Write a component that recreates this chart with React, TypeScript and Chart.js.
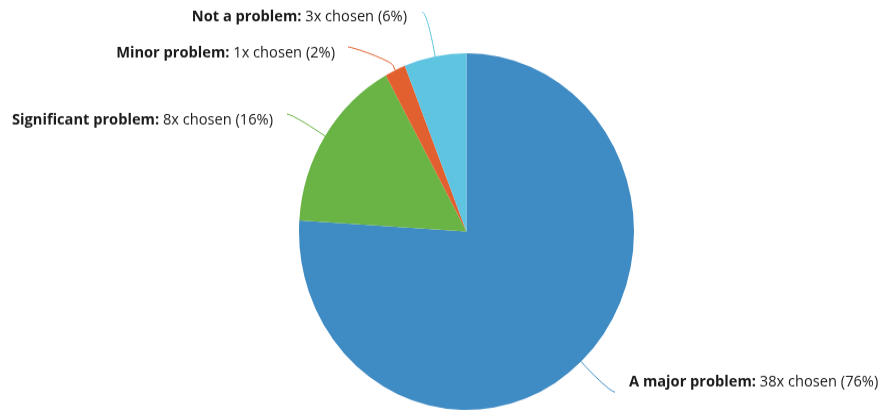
import React, { useEffect, useRef } from 'react';
import { Chart, registerables } from 'chart.js';

Chart.register(...registerables);

const categories = ['A major problem', 'Significant problem', 'Minor problem', 'Not a problem'];
const counts = [38, 8, 1, 3];
const percents = [76, 16, 2, 6];
const colors = ['#3f8bc4', '#6ab446', '#e2602f', '#5ec4e0'];

const FONT = '"Open Sans", "DejaVu Sans", sans-serif';
const FONT_SIZE = 14.65;
const TEXT_COLOR = '#1a1a1a';

// label placement (canvas coordinates), one entry per slice
const labelLayout = [
  { endX: 615, endY: 368.2, textX: 629, baseY: 363.2, align: 'left' },
  { endX: 287, endY: 107.1, textX: 273, baseY: 116.8, align: 'right' },
  { endX: 348, endY: 44.1, textX: 335, baseY: 53.8, align: 'right' },
  { endX: 422, endY: 11.3, textX: 407, baseY: 20.4, align: 'right' },
];

const labelPlugin = {
  id: 'pieLabels',
  afterDraw(chart: any) {
    const ctx = chart.ctx as CanvasRenderingContext2D;
    const meta = chart.getDatasetMeta(0);
    meta.data.forEach((arc: any, i: number) => {
      const { x, y, outerRadius, startAngle, endAngle } = arc.getProps(
        ['x', 'y', 'outerRadius', 'startAngle', 'endAngle'],
        true
      );
      const mid = (startAngle + endAngle) / 2;
      const bx = x + Math.cos(mid) * outerRadius;
      const by = y + Math.sin(mid) * outerRadius;
      const kx = x + Math.cos(mid) * (outerRadius + 5);
      const ky = y + Math.sin(mid) * (outerRadius + 5);
      const L = labelLayout[i];
      ctx.save();
      ctx.strokeStyle = colors[i];
      ctx.lineWidth = 1;
      ctx.beginPath();
      ctx.moveTo(L.endX, L.endY);
      ctx.bezierCurveTo(
        L.endX + (L.align === 'left' ? -5 : 5),
        L.endY,
        2 * kx - bx,
        2 * ky - by,
        kx,
        ky
      );
      ctx.lineTo(bx, by);
      ctx.stroke();

      const boldText = categories[i] + ':';
      const regText = ' ' + counts[i] + 'x chosen (' + percents[i] + '%)';
      ctx.textBaseline = 'alphabetic';
      ctx.textAlign = 'left';
      ctx.font = 'bold ' + FONT_SIZE + 'px ' + FONT;
      const wb = ctx.measureText(boldText).width;
      ctx.font = FONT_SIZE + 'px ' + FONT;
      const wr = ctx.measureText(regText).width;
      const left = L.align === 'left' ? L.textX : L.textX - wb - wr;
      ctx.fillStyle = TEXT_COLOR;
      ctx.font = 'bold ' + FONT_SIZE + 'px ' + FONT;
      ctx.fillText(boldText, left, L.baseY);
      ctx.font = FONT_SIZE + 'px ' + FONT;
      ctx.fillText(regText, left + wb, L.baseY);
      ctx.restore();
    });
  },
};

export default function App() {
  const ref = useRef<HTMLCanvasElement | null>(null);
  useEffect(() => {
    if (!ref.current) return;
    const chart = new Chart(ref.current, {
      type: 'pie',
      data: {
        labels: categories,
        datasets: [
          {
            data: counts,
            backgroundColor: colors,
            borderWidth: 0,
          },
        ],
      },
      options: {
        responsive: false,
        animation: false,
        layout: { padding: { top: 50, bottom: 2, left: 299, right: 248 } },
        plugins: {
          legend: { display: false },
          tooltip: { enabled: false },
        },
      },
      plugins: [labelPlugin],
    });
    return () => chart.destroy();
  }, []);
  return (
    <div style={{ position: 'fixed', left: 0, top: 0, width: 882, height: 412, background: '#fff' }}>
      <canvas
        ref={ref}
        width={882}
        height={387}
        style={{ width: '882px', height: '412px', display: 'block' }}
      />
    </div>
  );
}
